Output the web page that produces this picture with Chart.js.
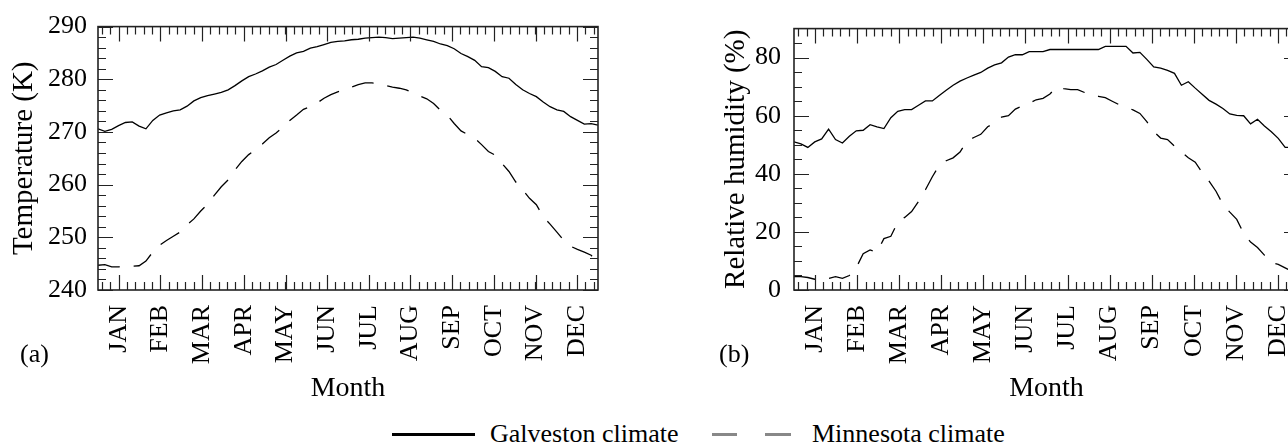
<!DOCTYPE html>
<html>
<head>
<meta charset="utf-8">
<script src="https://cdn.jsdelivr.net/npm/chart.js@4.4.1/dist/chart.umd.min.js"></script>
<style>
  html, body { margin: 0; padding: 0; background: #fff; width: 1288px; height: 446px; overflow: hidden; }
  #wrap { position: relative; width: 1288px; height: 446px; overflow: hidden; font-family: "Liberation Serif", "DejaVu Serif", serif; color: #000; }
  canvas { position: absolute; top: 0; }
  #chartA { left: 0; }
  #chartB { left: 700px; }
  .txt { position: absolute; font-size: 26px; line-height: 30px; white-space: nowrap; }
  .sw { position: absolute; height: 3px; }
</style>
</head>
<body>
<div id="wrap">
  <canvas id="chartA" width="640" height="410"></canvas>
  <canvas id="chartB" width="640" height="410"></canvas>
  <div class="txt" style="left:20px; top:339px;">(a)</div>
  <div class="txt" style="left:719px; top:339px;">(b)</div>

  <div class="sw" style="left:392px; top:433px; width:83px; background:#000;"></div>
  <div class="txt" style="left:490px; top:419px;">Galveston climate</div>
  <div class="sw" style="left:712px; top:433px; width:25px; background:#888;"></div>
  <div class="sw" style="left:765px; top:433px; width:26px; background:#888;"></div>
  <div class="txt" style="left:812px; top:419px;">Minnesota climate</div>
</div>

<script>
// day of year at which each value was read
const days = [0, 5, 10, 15, 20, 25, 30, 35, 40, 45, 50, 55, 60, 65, 70, 75, 80, 85, 90, 95,
  100, 105, 110, 115, 120, 125, 130, 135, 140, 145, 150, 155, 160, 165, 170, 175, 180, 185, 190, 195,
  200, 205, 210, 215, 220, 225, 230, 235, 240, 245, 250, 255, 260, 265, 270, 275, 280, 285, 290, 295,
  300, 305, 310, 315, 320, 325, 330, 335, 340, 345, 350, 355, 360, 365];

const months = ['JAN', 'FEB', 'MAR', 'APR', 'MAY', 'JUN', 'JUL', 'AUG', 'SEP', 'OCT', 'NOV', 'DEC'];
const monthTickDays = [15.2, 45.6, 76.0, 106.5, 136.9, 167.3, 197.7, 228.1, 258.5, 289.0, 319.4, 349.8];

const tempTicks = [240, 250, 260, 270, 280, 290];
const rhTicks = [0, 20, 40, 60, 80];

// (a) temperature, K
const galvestonTemp = [
  270.6, 270.1, 270.5, 271.2, 271.8, 271.9, 271.1, 270.6, 272.2, 273.2,
  273.6, 274.0, 274.2, 274.9, 275.9, 276.5, 276.9, 277.2, 277.5, 278.0,
  278.8, 279.7, 280.5, 281.0, 281.6, 282.3, 282.8, 283.6, 284.4, 285.0,
  285.3, 285.9, 286.2, 286.6, 287.0, 287.2, 287.3, 287.5, 287.6, 287.8,
  287.9, 288.0, 287.9, 287.7, 287.8, 287.9, 288.0, 287.8, 287.5, 287.2,
  286.7, 286.4, 285.8, 284.9, 284.3, 283.6, 282.4, 282.2, 281.5, 280.5,
  280.2, 279.0, 278.0, 277.3, 276.7, 275.7, 274.8, 274.2, 273.9, 272.9,
  272.2, 271.5, 271.6, 271.3];
const minnesotaTemp = [
  244.7, 244.8, 244.4, 244.4, 244.5, 244.5, 244.6, 245.5, 247.2, 248.5,
  249.4, 250.2, 251.0, 252.4, 253.5, 255.0, 256.3, 258.0, 259.6, 260.9,
  262.8, 264.4, 265.7, 266.6, 267.7, 268.9, 269.8, 270.9, 272.2, 273.2,
  274.3, 274.8, 275.5, 276.4, 277.1, 277.6, 278.1, 278.5, 279.0, 279.3,
  279.3, 279.2, 278.8, 278.5, 278.3, 278.0, 277.4, 276.8, 276.3, 275.4,
  274.1, 273.2, 271.6, 270.2, 269.5, 268.8, 267.6, 266.3, 265.6, 264.0,
  262.5, 260.5, 259.0, 257.4, 256.2, 253.9, 252.5, 251.0, 249.4, 248.3,
  247.7, 247.2, 246.6, 245.1];

// (b) relative humidity, %
const galvestonRH = [
  51.0, 50.3, 49.1, 51.0, 52.0, 55.4, 51.8, 50.6, 52.9, 54.8,
  55.0, 56.9, 56.2, 55.6, 59.3, 61.5, 62.1, 62.1, 63.6, 65.1,
  65.1, 67.0, 68.8, 70.5, 71.9, 73.0, 74.0, 74.9, 76.4, 77.5,
  78.2, 80.2, 81.0, 81.0, 82.1, 82.1, 82.1, 82.8, 82.8, 82.8,
  82.8, 82.8, 82.8, 82.8, 82.8, 83.9, 83.9, 83.9, 83.9, 81.6,
  81.8, 79.4, 76.8, 76.4, 75.6, 74.6, 70.5, 71.7, 69.5, 67.4,
  65.3, 64.0, 62.5, 60.6, 60.1, 60.0, 57.2, 58.8, 56.5, 54.5,
  52.2, 49.1, 49.1, 49.5];
const minnesotaRH = [
  4.6, 4.6, 4.3, 3.7, 4.6, 4.0, 4.6, 4.0, 5.0, 7.7,
  12.5, 13.8, 13.0, 17.7, 18.5, 23.3, 25.0, 27.0, 30.5, 34.5,
  39.0, 43.0, 44.5, 45.5, 47.5, 51.3, 52.5, 53.6, 56.2, 57.5,
  59.5, 60.0, 62.3, 63.4, 64.3, 65.5, 66.0, 67.5, 70.0, 69.3,
  69.0, 69.0, 68.0, 67.0, 66.7, 66.2, 65.0, 63.8, 63.0, 62.0,
  60.8, 58.0, 54.5, 52.3, 51.8, 49.5, 47.5, 45.5, 44.0, 40.5,
  37.5, 34.0, 29.5, 26.8, 24.3, 19.5, 16.5, 14.6, 12.0, 9.4,
  8.8, 7.6, 6.4, 5.5];

const FONT = 'Liberation Serif';

// box frame with inward major/minor ticks on all four sides
const frameTicks = {
  id: 'frameTicks',
  afterDraw(chart, args, opts) {
    const { ctx, chartArea: a, scales: { x, y } } = chart;
    const minorX = 365 / 60;
    ctx.save();
    ctx.strokeStyle = '#222';
    ctx.lineWidth = 1.2;
    ctx.beginPath();
    const xTick = (v, len) => {
      const px = Math.round(x.getPixelForValue(v)) + 0.5;
      ctx.moveTo(px, a.bottom); ctx.lineTo(px, a.bottom - len);
      ctx.moveTo(px, a.top); ctx.lineTo(px, a.top + len);
    };
    const yTick = (v, len) => {
      const py = Math.round(y.getPixelForValue(v)) + 0.5;
      ctx.moveTo(a.left, py); ctx.lineTo(a.left + len, py);
      ctx.moveTo(a.right, py); ctx.lineTo(a.right - len, py);
    };
    monthTickDays.forEach(d => xTick(d, 15));
    for (let d = monthTickDays[0] - 2 * minorX; d < x.max; d += minorX) {
      if (d > x.min) xTick(d, 8);
    }
    opts.major.forEach(v => yTick(v, 15));
    for (let v = y.min + opts.minorStep; v < y.max; v += opts.minorStep) {
      if (!opts.major.includes(v)) yTick(v, 8);
    }
    ctx.stroke();
    ctx.lineWidth = 1.6;
    ctx.strokeRect(a.left, a.top, a.width, a.height);
    ctx.restore();
  }
};

function makeChart(id, cfg) {
  const line = (vals, dashed) => ({
    data: vals.map((v, i) => ({ x: days[i], y: v })),
    borderColor: '#000',
    borderWidth: 1.3,
    borderDash: dashed ? [22, 14] : [],
    pointRadius: 0,
    tension: 0,
    fill: false
  });

  return new Chart(document.getElementById(id), {
    type: 'line',
    data: { datasets: [line(cfg.solid, false), line(cfg.dashed, true)] },
    options: {
      responsive: false,
      animation: false,
      layout: { padding: { top: 23, right: cfg.padRight, left: 0, bottom: 0 } },
      plugins: {
        legend: { display: false },
        tooltip: { enabled: false },
        frameTicks: { major: cfg.yTicks, minorStep: cfg.minorStep }
      },
      scales: {
        x: {
          type: 'linear',
          min: 0,
          max: 365,
          afterBuildTicks: s => { s.ticks = monthTickDays.map(v => ({ value: v })); },
          afterFit: s => { s.height = 120; },
          grid: { display: false, drawTicks: false },
          border: { display: false },
          ticks: {
            autoSkip: false,
            minRotation: 90,
            maxRotation: 90,
            padding: 15,
            color: '#000',
            font: { family: FONT, size: 26 },
            callback: (v, i) => months[i]
          },
          title: {
            display: true,
            text: 'Month',
            color: '#000',
            font: { family: FONT, size: 28 },
            padding: { top: 0, bottom: 5 }
          }
        },
        y: {
          min: cfg.yMin,
          max: cfg.yMax,
          afterBuildTicks: s => { s.ticks = cfg.yTicks.map(v => ({ value: v })); },
          afterFit: s => { s.width = cfg.yWidth; },
          grid: { display: false, drawTicks: false },
          border: { display: false },
          ticks: {
            padding: cfg.tickPad,
            color: '#000',
            font: { family: FONT, size: 26 }
          },
          title: {
            display: true,
            text: cfg.title,
            color: '#000',
            font: { family: FONT, size: 29 },
            padding: { top: cfg.titlePad, bottom: 0 }
          }
        }
      }
    },
    plugins: [frameTicks]
  });
}

makeChart('chartA', {
  solid: galvestonTemp, dashed: minnesotaTemp,
  yMin: 240, yMax: 290, yTicks: tempTicks, minorStep: 2,
  title: 'Temperature (K)', yWidth: 98, padRight: 42, tickPad: 11, titlePad: 7
});

makeChart('chartB', {
  solid: galvestonRH, dashed: minnesotaRH,
  yMin: 0, yMax: 90, yTicks: rhTicks, minorStep: 5,
  title: 'Relative humidity (%)', yWidth: 94, padRight: 41, tickPad: 13, titlePad: 19
});
</script>
</body>
</html>
